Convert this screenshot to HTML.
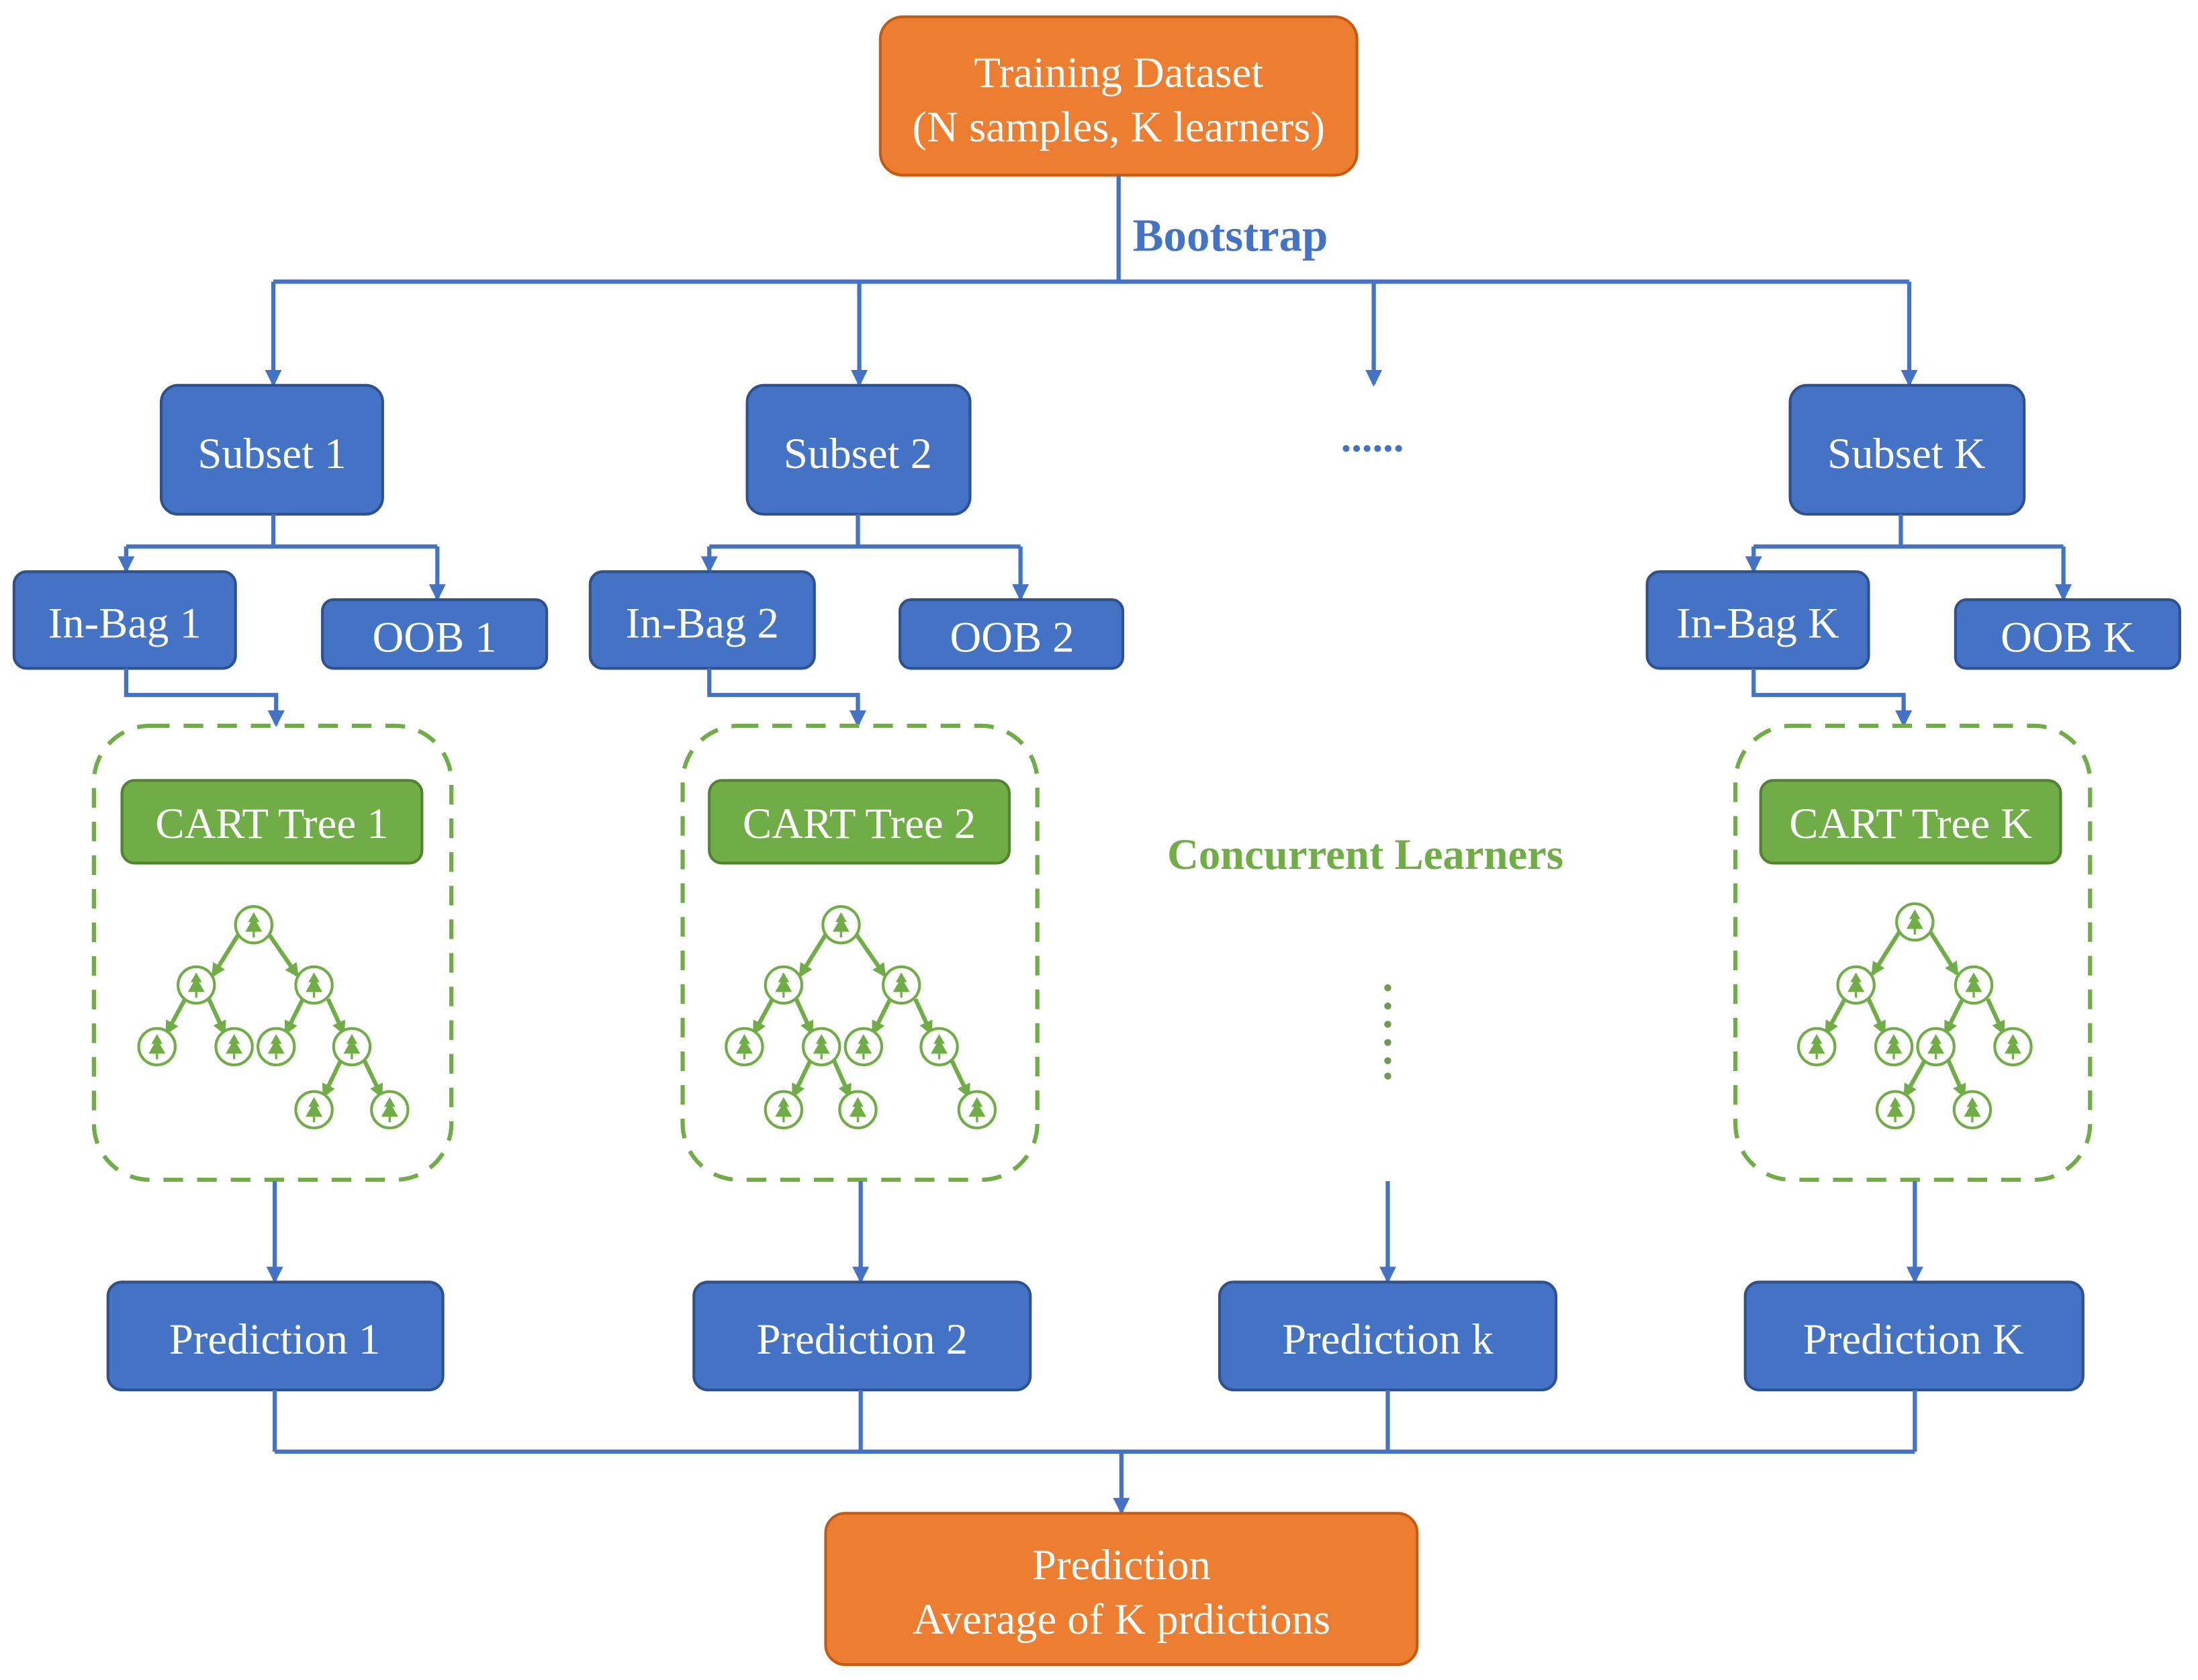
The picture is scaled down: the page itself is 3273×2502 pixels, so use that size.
<!DOCTYPE html>
<html><head><meta charset="utf-8"><style>
html,body{margin:0;padding:0;background:#fff}
svg{display:block}
text{font-family:"Liberation Serif",serif}
</style></head><body>
<svg width="3273" height="2502" viewBox="0 0 1568 1199" preserveAspectRatio="none" xmlns="http://www.w3.org/2000/svg">
<defs>
<marker id="ab" markerWidth="12" markerHeight="12" refX="10" refY="6" orient="auto" markerUnits="userSpaceOnUse" viewBox="0 0 12 12">
<path d="M0,0 L12,6 L0,12 z" fill="#4472C4"/>
</marker>
<marker id="ag" markerWidth="10" markerHeight="10" refX="8" refY="5" orient="auto" markerUnits="userSpaceOnUse" viewBox="0 0 10 10">
<path d="M0,0 L10,5 L0,10 z" fill="#70AD47"/>
</marker>
<g id="nd">
<circle r="13" fill="#fff" stroke="#70AD47" stroke-width="2"/>
<path d="M0,-9 L-4,-2 L-2,-2 L-6,5 L6,5 L2,-2 L4,-2 z" fill="#70AD47"/>
<rect x="-0.8" y="5" width="1.6" height="4" fill="#70AD47"/>
</g>
</defs>
<style>
.bl{stroke:#4472C4;stroke-width:3;fill:none}
.bx{fill:#4472C4;stroke:#2F528F;stroke-width:2}
.gb{fill:#70AD47;stroke:#548235;stroke-width:2}
.or{fill:#ED7D31;stroke:#C55A11;stroke-width:2}
.wt{fill:#fff;font-size:31px;text-anchor:middle}
.dash{fill:none;stroke:#70AD47;stroke-width:3;stroke-dasharray:14 10}
.ge{stroke:#70AD47;stroke-width:3;fill:none}
</style>

<rect class="or" x="628" y="12" width="340" height="113" rx="16"/>
<text class="wt" x="798" y="62">Training Dataset</text>
<text class="wt" x="798" y="101">(N samples, K learners)</text>
<path class="bl" d="M798,125 V200"/>
<text x="808" y="179" font-size="33" font-weight="bold" fill="#4472C4">Bootstrap</text>
<path class="bl" d="M195,201 H1362"/>
<path class="bl" d="M195,201 V274" marker-end="url(#ab)"/>
<path class="bl" d="M613,201 V274" marker-end="url(#ab)"/>
<path class="bl" d="M980,201 V274" marker-end="url(#ab)"/>
<path class="bl" d="M1362,201 V274" marker-end="url(#ab)"/>

<rect class="bx" x="115" y="275" width="158" height="92" rx="12"/>
<text class="wt" x="194" y="334">Subset 1</text>
<rect class="bx" x="533" y="275" width="159" height="92" rx="12"/>
<text class="wt" x="612" y="334">Subset 2</text>
<text x="979" y="322" font-size="30" fill="#4472C4" text-anchor="middle" font-weight="bold">......</text>
<rect class="bx" x="1277" y="275" width="167" height="92" rx="12"/>
<text class="wt" x="1360" y="334">Subset K</text>

<path class="bl" d="M195,367 V390 M90,390 H312"/>
<path class="bl" d="M90,390 V407" marker-end="url(#ab)"/>
<path class="bl" d="M312,390 V427" marker-end="url(#ab)"/>
<path class="bl" d="M612,367 V390 M506,390 H728"/>
<path class="bl" d="M506,390 V407" marker-end="url(#ab)"/>
<path class="bl" d="M728,390 V427" marker-end="url(#ab)"/>
<path class="bl" d="M1356,367 V390 M1251,390 H1472"/>
<path class="bl" d="M1251,390 V407" marker-end="url(#ab)"/>
<path class="bl" d="M1472,390 V427" marker-end="url(#ab)"/>

<rect class="bx" x="10" y="408" width="158" height="69" rx="9"/>
<text class="wt" x="89" y="455">In-Bag 1</text>
<rect class="bx" x="230" y="428" width="160" height="49" rx="8"/>
<text class="wt" x="310" y="465">OOB 1</text>
<rect class="bx" x="421" y="408" width="160" height="69" rx="9"/>
<text class="wt" x="501" y="455">In-Bag 2</text>
<rect class="bx" x="642" y="428" width="159" height="49" rx="8"/>
<text class="wt" x="722" y="465">OOB 2</text>
<rect class="bx" x="1175" y="408" width="158" height="69" rx="9"/>
<text class="wt" x="1254" y="455">In-Bag K</text>
<rect class="bx" x="1395" y="428" width="160" height="49" rx="8"/>
<text class="wt" x="1475" y="465">OOB K</text>

<path class="bl" d="M90,477 V496 H197 V517" marker-end="url(#ab)"/>
<path class="bl" d="M506,477 V496 H612 V517" marker-end="url(#ab)"/>
<path class="bl" d="M1251,477 V496 H1358 V517" marker-end="url(#ab)"/>

<rect class="dash" x="67" y="518" width="255" height="324" rx="40"/>
<rect class="dash" x="487" y="518" width="253" height="324" rx="40"/>
<rect class="dash" x="1238" y="518" width="253" height="324" rx="40"/>

<rect class="gb" x="87" y="557" width="214" height="59" rx="9"/>
<text class="wt" x="194" y="598">CART Tree 1</text>
<rect class="gb" x="506" y="557" width="214" height="59" rx="9"/>
<text class="wt" x="613" y="598">CART Tree 2</text>
<rect class="gb" x="1256" y="557" width="214" height="59" rx="9"/>
<text class="wt" x="1363" y="598">CART Tree K</text>

<g class="ge">
<path d="M170,667 L152,696" marker-end="url(#ag)"/><path d="M192,667 L212,696" marker-end="url(#ag)"/>
<path d="M132,713 L119,737" marker-end="url(#ag)"/><path d="M149,713 L160,737" marker-end="url(#ag)"/>
<path d="M216,713 L204,737" marker-end="url(#ag)"/><path d="M234,713 L245,737" marker-end="url(#ag)"/>
<path d="M243,757 L231,782" marker-end="url(#ag)"/><path d="M260,757 L272,782" marker-end="url(#ag)"/>
</g>
<use href="#nd" x="181" y="660"/><use href="#nd" x="140" y="703"/><use href="#nd" x="224" y="703"/>
<use href="#nd" x="112" y="747"/><use href="#nd" x="167" y="747"/><use href="#nd" x="197" y="747"/><use href="#nd" x="251" y="747"/>
<use href="#nd" x="224" y="792"/><use href="#nd" x="278" y="792"/>

<g class="ge">
<path d="M589,667 L571,696" marker-end="url(#ag)"/><path d="M611,667 L631,696" marker-end="url(#ag)"/>
<path d="M551,713 L538,737" marker-end="url(#ag)"/><path d="M568,713 L579,737" marker-end="url(#ag)"/>
<path d="M635,713 L623,737" marker-end="url(#ag)"/><path d="M653,713 L664,737" marker-end="url(#ag)"/>
<path d="M578,757 L566,782" marker-end="url(#ag)"/><path d="M595,757 L606,782" marker-end="url(#ag)"/>
<path d="M679,757 L691,782" marker-end="url(#ag)"/>
</g>
<use href="#nd" x="600" y="660"/><use href="#nd" x="559" y="703"/><use href="#nd" x="643" y="703"/>
<use href="#nd" x="531" y="747"/><use href="#nd" x="586" y="747"/><use href="#nd" x="616" y="747"/><use href="#nd" x="670" y="747"/>
<use href="#nd" x="559" y="792"/><use href="#nd" x="612" y="792"/><use href="#nd" x="697" y="792"/>

<g class="ge">
<path d="M1355,665 L1336,695" marker-end="url(#ag)"/><path d="M1377,665 L1396,695" marker-end="url(#ag)"/>
<path d="M1316,713 L1303,737" marker-end="url(#ag)"/><path d="M1333,713 L1344,737" marker-end="url(#ag)"/>
<path d="M1400,713 L1388,737" marker-end="url(#ag)"/><path d="M1418,713 L1429,737" marker-end="url(#ag)"/>
<path d="M1373,757 L1359,782" marker-end="url(#ag)"/><path d="M1390,757 L1401,782" marker-end="url(#ag)"/>
</g>
<use href="#nd" x="1366" y="658"/><use href="#nd" x="1324" y="703"/><use href="#nd" x="1408" y="703"/>
<use href="#nd" x="1296" y="747"/><use href="#nd" x="1351" y="747"/><use href="#nd" x="1381" y="747"/><use href="#nd" x="1436" y="747"/>
<use href="#nd" x="1352" y="792"/><use href="#nd" x="1407" y="792"/>

<text x="974" y="620" font-size="31" font-weight="bold" fill="#70AD47" text-anchor="middle">Concurrent Learners</text>
<g fill="#6E9A55">
<circle cx="990" cy="705" r="2.5"/><circle cx="990" cy="718" r="2.5"/><circle cx="990" cy="731" r="2.5"/>
<circle cx="990" cy="744" r="2.5"/><circle cx="990" cy="757" r="2.5"/><circle cx="990" cy="768" r="2.5"/>
</g>

<path class="bl" d="M196,843 V914" marker-end="url(#ab)"/>
<path class="bl" d="M614,843 V914" marker-end="url(#ab)"/>
<path class="bl" d="M990,843 V914" marker-end="url(#ab)"/>
<path class="bl" d="M1366,843 V914" marker-end="url(#ab)"/>

<rect class="bx" x="77" y="915" width="239" height="77" rx="10"/>
<text class="wt" x="196" y="966" font-size="32">Prediction 1</text>
<rect class="bx" x="495" y="915" width="240" height="77" rx="10"/>
<text class="wt" x="615" y="966" font-size="32">Prediction 2</text>
<rect class="bx" x="870" y="915" width="240" height="77" rx="10"/>
<text class="wt" x="990" y="966" font-size="32">Prediction k</text>
<rect class="bx" x="1245" y="915" width="241" height="77" rx="10"/>
<text class="wt" x="1365" y="966" font-size="32">Prediction K</text>

<path class="bl" d="M196,992 V1036 M614,992 V1036 M990,992 V1036 M1366,992 V1036 M196,1036 H1366"/>
<path class="bl" d="M800,1036 V1079" marker-end="url(#ab)"/>

<rect class="or" x="589" y="1080" width="422" height="108" rx="14"/>
<text class="wt" x="800" y="1127">Prediction</text>
<text class="wt" x="800" y="1166">Average of K prdictions</text>
</svg>
</body></html>
